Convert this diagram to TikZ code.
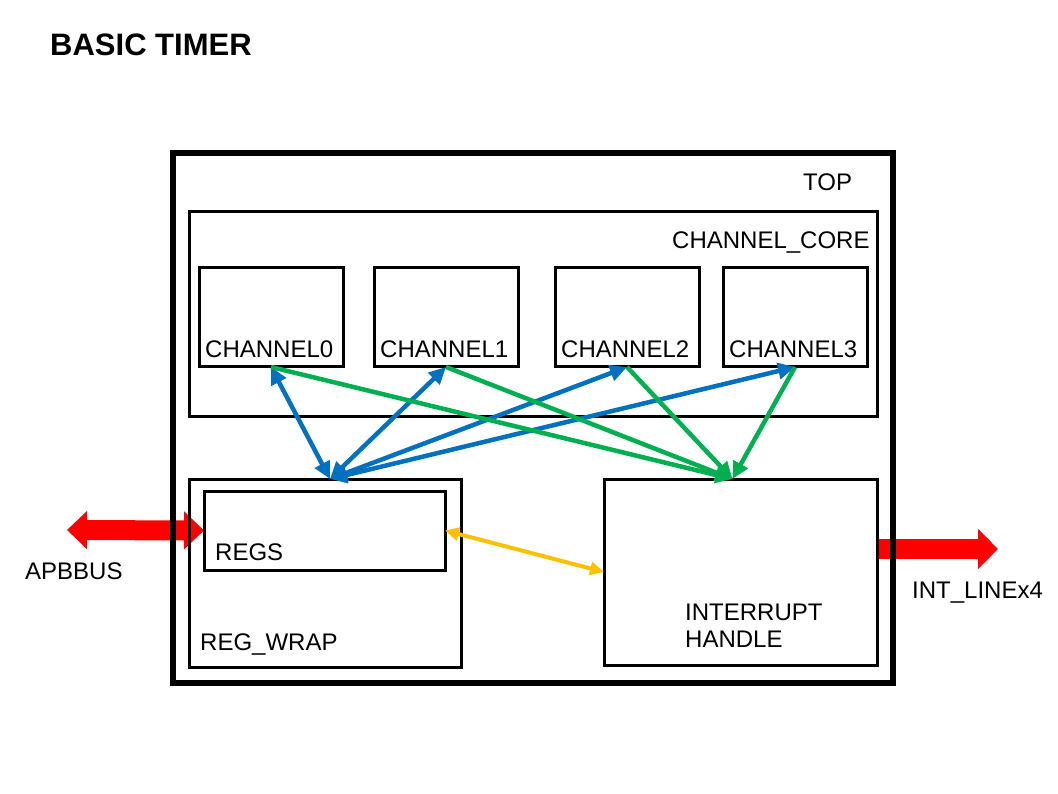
\documentclass[tikz,border=0pt]{standalone}
\usepackage{fontspec}
\setmainfont{Liberation Sans}
\usetikzlibrary{arrows.meta,backgrounds}
\definecolor{busRed}{HTML}{FF0000}
\definecolor{linkBlue}{HTML}{0070C0}
\definecolor{irqGreen}{HTML}{00B050}
\definecolor{ctrlAmber}{HTML}{FFC000}

\begin{document}
\begin{tikzpicture}[x=1pt,y=-1pt,
    every node/.style={font=\fontsize{24}{27}\selectfont},
    blk/.style={draw,line width=3pt,anchor=north west,inner sep=0pt,outer sep=0pt},
    lbl/.style={anchor=base west,inner sep=0pt},
    blueline/.style={linkBlue,line width=4.5pt,
      {Triangle[length=17pt,width=16pt]}-{Triangle[length=17pt,width=16pt]}},
    greenline/.style={irqGreen,line width=4.5pt,-{Triangle[length=17pt,width=16pt]}},
    amberline/.style={ctrlAmber,line width=4pt,
      {Triangle[length=14pt,width=13pt]}-{Triangle[length=14pt,width=13pt]}},
    busline/.style={busRed,line width=20pt}]
  \useasboundingbox (0,0) rectangle (1058,794);
  \node[lbl,font=\bfseries\fontsize{31}{33}\selectfont] (title) at (50,56) {BASIC TIMER};
  % blocks
  \node[blk,line width=6pt,minimum width=720pt,minimum height=530pt] (top) at (173,153) {};
  \node[lbl] (toplbl) at (803,191) {TOP};
  \node[blk,minimum width=688pt,minimum height=204pt] (core) at (189,212) {};
  \node[lbl] (corelbl) at (672,249) {CHANNEL\_CORE};
  \foreach \i/\x in {0/199,1/374,2/555,3/723}{
    \node[blk,minimum width=144pt,minimum height=99pt] (ch\i) at (\x,268) {};
    \node[lbl] at ([xshift=6pt,yshift=9pt]ch\i.south west) {CHANNEL\i};
  }
  \node[blk,minimum width=272pt,minimum height=188pt] (regwrap) at (189,479) {};
  \node[lbl] (wraplbl) at (200,650) {REG\_WRAP};
  \node[blk,minimum width=241pt,minimum height=79pt] (regs) at (204,491) {};
  \node[lbl] (regslbl) at (215,560) {REGS};
  \node[blk,minimum width=273pt,minimum height=186pt] (inthandle) at (604,479) {};
  \node[lbl,align=left] (intlbl) at (685,647) {INTERRUPT\\HANDLE};
  % links
  \foreach \i in {0,...,3}
    \draw[blueline] ([xshift=5pt]regwrap.north) -- (ch\i.south);
  \foreach \i in {0,...,3}
    \draw[greenline] (ch\i.south) -- ([xshift=-8pt]inthandle.north);
  \draw[amberline] (regs.east) -- (inthandle.west);
  % ports
  \coordinate (apbend) at (67,530);
  \coordinate (intend) at (998,549);
  \begin{scope}[on background layer]
    \draw[busline,{Triangle[length=20pt,width=37pt]}-{Triangle[length=20pt,width=37pt]}]
      (apbend) -- (regs.west);
    \draw[busline,-{Triangle[length=20pt,width=39pt]}] (inthandle.east |- intend) -- (intend);
  \end{scope}
  \node[lbl] (apblbl) at (25,579) {APBBUS};
  \node[lbl] (intoutlbl) at (912,598) {INT\_LINEx4};
\end{tikzpicture}
\end{document}
